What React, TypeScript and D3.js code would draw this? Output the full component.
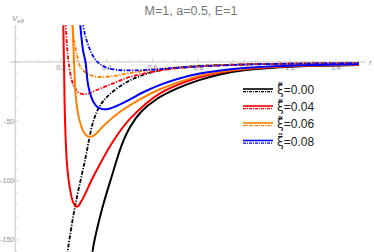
import React, { useRef, useEffect } from "react";
import * as d3 from "d3";

type Pt = [number, number];

// r, V_eff pairs
const blackSolid: Pt[] = [
  [0.332, -170], [0.341, -155.7], [0.378, -124.8], [0.421, -96.7], [0.465, -70],
  [0.501, -55], [0.55, -42], [0.62, -31], [0.705, -22.5], [0.8, -15.5], [0.894, -10.5],
  [1.0, -7.0], [1.2, -4.0], [1.5, -2.5],
];
const blackDash: Pt[] = [
  [0.222, -170], [0.232, -155.7], [0.261, -122], [0.305, -82.6], [0.341, -50],
  [0.37, -37], [0.414, -27], [0.501, -15.5], [0.618, -7.6], [0.749, -4.0],
  [1.0, -2.0], [1.2, -1.4], [1.5, -1.0],
];
const redSolid: Pt[] = [
  [0.209, 40], [0.213, 0], [0.2175, -48.9], [0.227, -88], [0.24, -108], [0.255, -119],
  [0.271, -122], [0.29, -117], [0.341, -96.7], [0.427, -67], [0.501, -48],
  [0.632, -26.5], [0.776, -14.5], [0.894, -9.0], [1.0, -6.2], [1.2, -3.7], [1.5, -2.3],
];
const redDash: Pt[] = [
  [0.218, 40], [0.226, 14.3], [0.233, 0], [0.247, -15.2], [0.261, -22], [0.283, -26.5],
  [0.318, -26.6], [0.356, -23.6], [0.428, -18], [0.501, -12.6], [0.632, -7.2],
  [0.776, -4.2], [1.0, -2.2], [1.2, -1.5], [1.5, -1.0],
];
const orangeSolid: Pt[] = [
  [0.249, 40], [0.257, 0], [0.265, -30], [0.276, -45], [0.288, -54], [0.3, -59.5],
  [0.313, -62.3], [0.326, -63], [0.34, -62.4], [0.353, -60.5], [0.385, -54],
  [0.458, -42], [0.545, -31.5], [0.632, -23], [0.776, -13.2], [0.894, -8.3],
  [1.0, -5.7], [1.2, -3.4], [1.5, -2.2],
];
const orangeDash: Pt[] = [
  [0.245, 40], [0.257, 18.5], [0.27, 5.9], [0.283, -3.5], [0.312, -9.5], [0.356, -12.4],
  [0.414, -12.2], [0.501, -9.3], [0.632, -5.9], [0.807, -3.4], [1.0, -2.0],
  [1.2, -1.4], [1.5, -1.0],
];
const blueSolid: Pt[] = [
  [0.28, 40], [0.296, 10], [0.307, 0], [0.319, -20], [0.341, -33.5], [0.362, -38.4],
  [0.385, -39.9], [0.414, -39.2], [0.458, -35.8], [0.501, -31.5], [0.559, -25.5],
  [0.63, -19.5], [0.705, -14.5], [0.8, -10], [0.894, -7.2], [1.0, -5.0], [1.2, -3.1],
  [1.5, -2.0],
];
const blueDash: Pt[] = [
  [0.289, 40], [0.305, 22.8], [0.319, 14.3], [0.335, 6.5], [0.356, 0.8], [0.37, -1.7],
  [0.4, -5.0], [0.443, -6.6], [0.501, -7.1], [0.589, -6.6], [0.75, -4.3],
  [1.0, -2.2], [1.2, -1.5], [1.5, -1.0],
];

const series = [
  { label: "0.00", color: "#000000", solid: blackSolid, dash: blackDash },
  { label: "0.04", color: "#ff0000", solid: redSolid, dash: redDash },
  { label: "0.06", color: "#ff8000", solid: orangeSolid, dash: orangeDash },
  { label: "0.08", color: "#0000ff", solid: blueSolid, dash: blueDash },
];

const xTicks = [0.2, 0.4, 0.6, 0.8, 1.0, 1.2, 1.4];
const yTicks = [-150, -100, -50];

const App = () => {
  const ref = useRef<SVGSVGElement>(null);

  useEffect(() => {
    const svg = d3.select(ref.current);
    svg.selectAll("*").remove();

    const width = 374;
    const height = 252;
    const font = "'Liberation Sans', Arial, sans-serif";

    const x = d3.scaleLinear().domain([0, 1.53]).range([15.2, 365.6]);
    const y = d3.scaleLinear().domain([-160, 31]).range([251.8, 25.2]);

    svg.attr("width", width).attr("height", height);

    svg.append("defs").append("clipPath").attr("id", "plotclip")
      .append("rect")
      .attr("x", x(0)).attr("y", y(31))
      .attr("width", x(1.53) - x(0)).attr("height", y(-160) - y(31));

    const axisColor = "#b8b8b8";
    const labelColor = "#8c8c8c";

    // x axis
    svg.append("line")
      .attr("x1", 10).attr("x2", x(1.53))
      .attr("y1", y(0)).attr("y2", y(0))
      .attr("stroke", axisColor).attr("stroke-width", 0.8);
    // y axis
    svg.append("line")
      .attr("x1", x(0)).attr("x2", x(0))
      .attr("y1", y(31)).attr("y2", height)
      .attr("stroke", axisColor).attr("stroke-width", 0.8);

    // minor / major ticks
    const xMinor = d3.range(0.05, 1.52, 0.05);
    svg.selectAll("line.xt").data(xMinor).enter().append("line")
      .attr("x1", (d) => x(d)).attr("x2", (d) => x(d))
      .attr("y1", y(0))
      .attr("y2", (d) => y(0) - (Math.abs(d * 5 - Math.round(d * 5)) < 0.01 ? 3.5 : 2))
      .attr("stroke", axisColor).attr("stroke-width", 0.6);

    const yMinor = d3.range(-160, 31, 10);
    svg.selectAll("line.yt").data(yMinor).enter().append("line")
      .attr("y1", (d) => y(d)).attr("y2", (d) => y(d))
      .attr("x1", x(0))
      .attr("x2", (d) => x(0) + (d % 50 === 0 ? 3.5 : 2))
      .attr("stroke", axisColor).attr("stroke-width", 0.6);

    svg.selectAll("text.xl").data(xTicks).enter().append("text")
      .attr("x", (d) => x(d)).attr("y", y(0) + 8.5)
      .attr("text-anchor", "middle")
      .style("font-family", font).style("font-size", "7px")
      .style("fill", labelColor)
      .text((d) => d.toFixed(1));

    svg.selectAll("text.yl").data(yTicks).enter().append("text")
      .attr("x", x(0) - 1).attr("y", (d) => y(d) + 2.5)
      .attr("text-anchor", "end")
      .style("font-family", font).style("font-size", "7px")
      .style("fill", labelColor)
      .text((d) => `-${Math.abs(d)}`);

    // axis labels
    const vl = svg.append("text").attr("x", 12).attr("y", 21)
      .style("font-family", font).style("font-size", "8px").style("fill", labelColor);
    vl.append("tspan").style("font-style", "italic").text("V");
    vl.append("tspan").attr("dy", 2).style("font-size", "6px").text("eff");

    svg.append("text").attr("x", 369).attr("y", 65)
      .style("font-family", font).style("font-size", "8px").style("font-style", "italic")
      .style("fill", labelColor).text("r");

    // title
    svg.append("text").attr("x", 191).attr("y", 15)
      .attr("text-anchor", "middle")
      .style("font-family", font).style("font-size", "12.5px")
      .style("fill", "#777777")
      .text("M=1, a=0.5, E=1");

    // curves
    const line = d3.line<Pt>()
      .x((d) => x(d[0]))
      .y((d) => y(d[1]))
      .curve(d3.curveCatmullRom.alpha(0.5));

    const plot = svg.append("g").attr("clip-path", "url(#plotclip)");
    series.forEach((s) => {
      plot.append("path")
        .attr("d", line(s.solid))
        .attr("fill", "none")
        .attr("stroke", s.color)
        .attr("stroke-width", 2);
      plot.append("path")
        .attr("d", line(s.dash))
        .attr("fill", "none")
        .attr("stroke", s.color)
        .attr("stroke-width", 1.8)
        .attr("stroke-dasharray", "4,1.5,1.2,1.5");
    });

    // legend
    const rows = [89, 106, 123, 140.5];
    const legend = svg.append("g");
    series.forEach((s, i) => {
      const ry = rows[i];
      legend.append("line")
        .attr("x1", 243).attr("x2", 273).attr("y1", ry).attr("y2", ry)
        .attr("stroke", s.color).attr("stroke-width", 1.6);
      legend.append("line")
        .attr("x1", 243).attr("x2", 273).attr("y1", ry + 2.7).attr("y2", ry + 2.7)
        .attr("stroke", s.color).attr("stroke-width", 1.3)
        .attr("stroke-dasharray", "3,1,1,1");
      const t = legend.append("text")
        .attr("x", 277).attr("y", ry + 5)
        .style("font-family", font).style("font-size", "12px")
        .style("fill", "#222");
      t.append("tspan")
        .style("font-family", "'DejaVu Sans', sans-serif")
        .text("\u03be\u0303");
      t.append("tspan").text(`=${s.label}`);
    });
  }, []);

  return <svg ref={ref} style={{ position: "absolute", left: 0, top: 0 }}></svg>;
};

export default App;
